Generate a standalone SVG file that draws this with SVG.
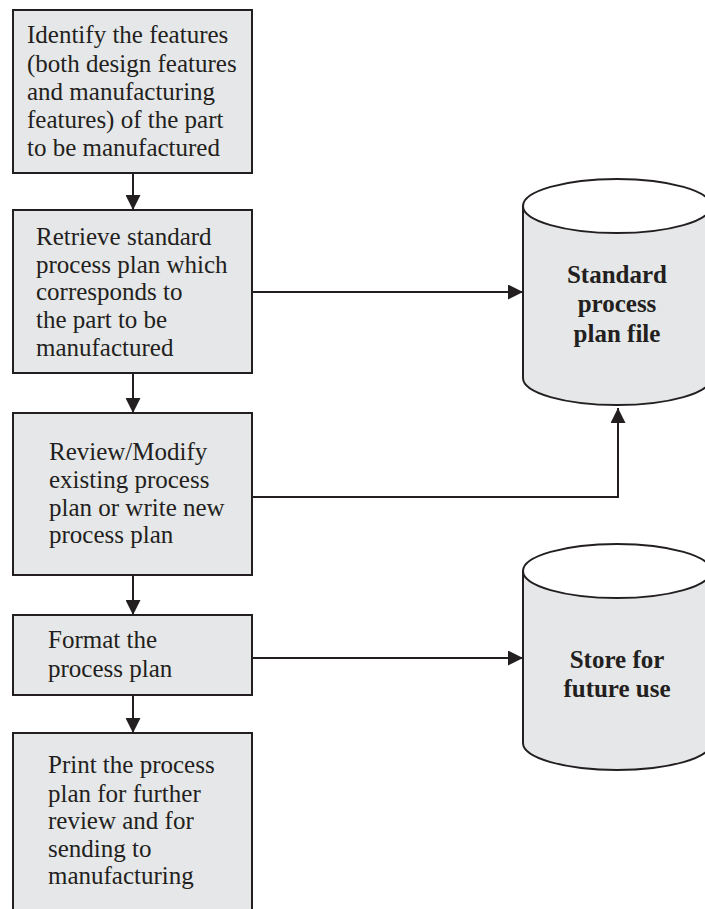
<svg xmlns="http://www.w3.org/2000/svg" width="705" height="909" viewBox="0 0 705 909">
<style>
.box{fill:#e6e7e8;stroke:#231f20;stroke-width:2}
.cyl{fill:#e6e7e8;stroke:#231f20;stroke-width:2}
.cap{fill:#ffffff;stroke:#231f20;stroke-width:2}
.t{font-family:"Liberation Serif","Times New Roman",serif;font-size:25px;fill:#231f20}
.b{font-family:"Liberation Serif","Times New Roman",serif;font-size:25px;font-weight:bold;fill:#231f20;text-anchor:middle}
.c{fill:none;stroke:#231f20;stroke-width:2}
</style>
<defs>
<marker id="ah" markerWidth="15" markerHeight="15" refX="15" refY="7.5" orient="auto" markerUnits="userSpaceOnUse">
<path d="M0,0 L15,7.5 L0,15 Z" fill="#231f20"/>
</marker>
</defs>
<rect width="705" height="909" fill="#ffffff"/>
<g id="connectors">
<line class="c" x1="133" y1="173" x2="133" y2="210" marker-end="url(#ah)"/>
<line class="c" x1="133" y1="373" x2="133" y2="413" marker-end="url(#ah)"/>
<line class="c" x1="133" y1="575" x2="133" y2="615" marker-end="url(#ah)"/>
<line class="c" x1="133" y1="695" x2="133" y2="733" marker-end="url(#ah)"/>
<line class="c" x1="252" y1="292" x2="523" y2="292" marker-end="url(#ah)"/>
<polyline class="c" points="252,497 618,497 618,408" marker-end="url(#ah)"/>
<line class="c" x1="252" y1="658" x2="523" y2="658" marker-end="url(#ah)"/>
</g>
<g id="n1">
<rect class="box" x="13" y="10" width="239" height="163"/>
<text class="t" x="27" y="43">Identify the features</text>
<text class="t" x="27" y="72">(both design features</text>
<text class="t" x="27" y="100">and manufacturing</text>
<text class="t" x="27" y="128">features) of the part</text>
<text class="t" x="27" y="156">to be manufactured</text>
</g>
<g id="n2">
<rect class="box" x="13" y="210" width="239" height="163"/>
<text class="t" x="36" y="245">Retrieve standard</text>
<text class="t" x="36" y="273">process plan which</text>
<text class="t" x="36" y="300">corresponds to</text>
<text class="t" x="36" y="328">the part to be</text>
<text class="t" x="36" y="356">manufactured</text>
</g>
<g id="n3">
<rect class="box" x="13" y="413" width="239" height="162"/>
<text class="t" x="49" y="460">Review/Modify</text>
<text class="t" x="49" y="488">existing process</text>
<text class="t" x="49" y="516">plan or write new</text>
<text class="t" x="49" y="543">process plan</text>
</g>
<g id="n4">
<rect class="box" x="13" y="615" width="239" height="80"/>
<text class="t" x="48" y="648">Format the</text>
<text class="t" x="48" y="677">process plan</text>
</g>
<g id="n5">
<rect class="box" x="13" y="733" width="239" height="190"/>
<text class="t" x="48" y="773">Print the process</text>
<text class="t" x="48" y="802">plan for further</text>
<text class="t" x="48" y="829">review and for</text>
<text class="t" x="48" y="857">sending to</text>
<text class="t" x="48" y="884">manufacturing</text>
</g>
<g id="db1">
<path class="cyl" d="M523,206 L523,378 A94,27 0 0 0 711,378 L711,206 Z"/>
<ellipse class="cap" cx="617" cy="206" rx="94" ry="27"/>
<text class="b" x="617" y="283">Standard</text>
<text class="b" x="617" y="312">process</text>
<text class="b" x="617" y="342">plan file</text>
</g>
<g id="db2">
<path class="cyl" d="M523,571 L523,743 A94,27 0 0 0 711,743 L711,571 Z"/>
<ellipse class="cap" cx="617" cy="571" rx="94" ry="27"/>
<text class="b" x="617" y="668">Store for</text>
<text class="b" x="617" y="697">future use</text>
</g>
</svg>
